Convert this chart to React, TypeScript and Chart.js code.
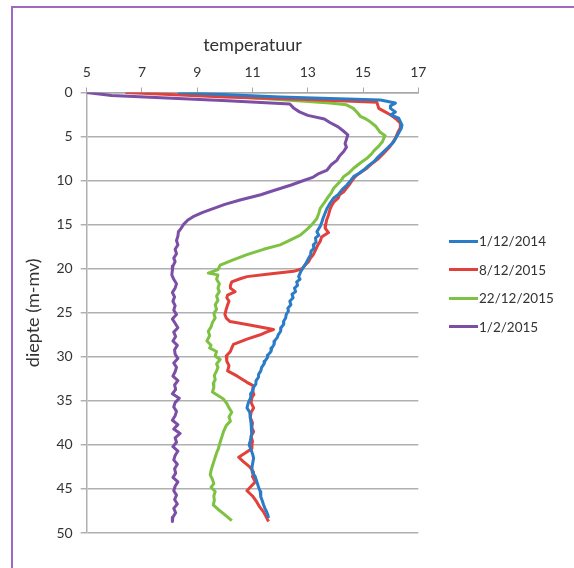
import React, { useEffect, useRef } from "react";
import { Chart, registerables } from "chart.js";

Chart.register(...registerables);

// ---- data: [depth (m-mv), temperature] ----
const seriesLabels = ["1/12/2014", "8/12/2015", "22/12/2015", "1/2/2015"];
const seriesColors = ["#2a7cc8", "#e2413b", "#7dc243", "#7c4fa7"];
const xTickValues = [5, 7, 9, 11, 13, 15, 17];
const yTickValues = [0, 5, 10, 15, 20, 25, 30, 35, 40, 45, 50];

const profile20141201: [number, number][] = [
  [0, 8.3], [0.5, 12.0], [0.85, 15.63], [1.2, 16.17], [1.5, 16.0], [1.8, 15.99], [2.2, 16.17],
  [2.55, 16.0], [2.9, 16.29], [3.3, 16.35], [3.7, 16.41], [4.1, 16.38], [4.6, 16.29], [5.1, 16.2],
  [5.6, 16.11], [6.1, 15.95], [6.7, 15.75], [7.3, 15.55], [7.85, 15.39], [8.3, 15.2], [8.8, 15.02],
  [9.2, 14.85], [9.55, 14.66], [10.0, 14.55], [10.5, 14.42], [11.0, 14.25], [11.6, 14.1], [12.0, 13.93],
  [12.6, 13.8], [13.2, 13.69], [13.9, 13.6], [14.3, 13.55], [14.7, 13.51], [15.2, 13.45], [15.8, 13.33],
  [16.2, 13.4], [16.5, 13.28], [17.0, 13.3], [17.3, 13.2], [17.7, 13.22], [18.0, 13.12], [18.4, 13.1],
  [18.8, 13.03], [19.3, 12.95], [19.8, 12.85], [20.3, 12.75], [20.9, 12.67], [21.2, 12.72], [21.5, 12.6],
  [21.9, 12.63], [22.2, 12.52], [22.6, 12.56], [22.9, 12.43], [23.3, 12.47], [23.7, 12.35], [24.1, 12.39],
  [24.5, 12.28], [24.8, 12.3], [25.2, 12.22], [25.6, 12.2], [26.0, 12.12], [26.3, 12.13], [26.7, 12.03],
  [27.1, 12.02], [27.5, 11.93], [27.8, 11.9], [28.2, 11.8], [28.6, 11.78], [29.0, 11.7], [29.4, 11.67],
  [29.8, 11.56], [30.1, 11.54], [30.5, 11.45], [30.8, 11.42], [31.2, 11.33], [31.6, 11.3], [32.0, 11.22],
  [32.3, 11.22], [32.7, 11.13], [33.1, 11.12], [33.5, 11.03], [33.8, 11.02], [34.2, 10.93], [34.6, 10.94],
  [35.2, 10.85], [35.8, 10.8], [36.3, 10.9], [36.9, 10.92], [37.6, 10.95], [38.2, 10.98], [38.8, 10.96],
  [39.5, 10.92], [40.0, 10.88], [40.4, 10.93], [41.0, 11.0], [41.5, 11.04], [42.2, 11.0], [42.6, 10.98],
  [43.1, 10.99], [43.6, 11.1], [44.2, 11.16], [44.8, 11.22], [45.3, 11.28], [45.9, 11.3], [46.4, 11.36],
  [46.8, 11.4], [47.2, 11.45], [47.5, 11.5], [47.9, 11.55], [48.3, 11.58],
];

const profile20151208: [number, number][] = [
  [0, 6.4], [0.5, 10.0], [0.8, 13.0], [1.1, 15.5], [1.8, 15.57], [2.2, 15.8], [2.55, 16.0], [3.0, 16.2],
  [3.5, 16.35], [4.0, 16.35], [4.6, 16.25], [5.2, 16.17], [5.8, 16.05], [6.3, 15.93], [6.9, 15.75],
  [7.47, 15.57], [8.0, 15.35], [8.6, 15.14], [9.0, 14.95], [9.36, 14.78], [9.8, 14.65], [10.3, 14.54],
  [10.8, 14.42], [11.26, 14.3], [11.6, 14.15], [12.0, 14.1], [12.4, 13.95], [12.8, 13.87], [13.3, 13.8],
  [13.9, 13.75], [14.5, 13.68], [15.0, 13.65], [15.4, 13.63], [15.9, 13.75], [16.4, 13.5], [16.9, 13.45],
  [17.4, 13.35], [17.9, 13.28], [18.4, 13.2], [18.8, 13.1], [19.2, 13.03], [19.6, 12.9], [20.0, 12.79],
  [20.3, 12.49], [20.6, 11.6], [20.9, 10.8], [21.2, 10.5], [21.5, 10.25], [21.9, 10.2], [22.2, 10.2],
  [22.6, 10.37], [23.0, 10.1], [23.3, 10.07], [23.7, 10.15], [24.1, 10.1], [24.6, 10.05], [25.2, 10.0],
  [25.6, 10.05], [26.0, 10.19], [26.4, 10.9], [26.9, 11.76], [27.2, 11.5], [27.5, 11.28], [28.0, 10.8],
  [28.6, 10.31], [29.0, 10.25], [29.4, 10.2], [29.9, 10.05], [30.5, 10.07], [31.0, 10.15], [31.6, 10.1],
  [32.2, 10.45], [32.9, 10.8], [33.3, 11.04], [33.8, 11.0], [34.3, 11.05], [34.6, 10.98], [35.2, 10.95],
  [35.8, 11.04], [36.3, 10.95], [36.9, 10.92], [37.5, 11.0], [38.0, 10.97], [38.5, 11.04], [39.0, 10.95],
  [39.6, 11.0], [40.0, 10.98], [40.4, 10.98], [40.9, 10.75], [41.4, 10.5], [41.9, 10.67], [42.5, 10.9],
  [43.1, 11.04], [43.6, 11.0], [44.2, 11.1], [44.7, 10.95], [45.2, 10.8], [45.8, 11.0], [46.5, 11.16],
  [47.0, 11.25], [47.6, 11.4], [48.2, 11.5], [48.7, 11.58],
];

const profile20151222: [number, number][] = [
  [0, 8.5], [0.5, 10.5], [0.9, 12.5], [1.2, 13.8], [1.4, 14.4], [1.8, 14.65], [2.3, 14.8], [2.7, 14.9],
  [3.0, 15.1], [3.3, 15.25], [3.8, 15.45], [4.45, 15.6], [4.9, 15.8], [5.2, 15.75], [5.6, 15.7],
  [6.15, 15.55], [6.6, 15.4], [7.0, 15.3], [7.47, 15.14], [8.0, 14.9], [8.6, 14.66], [9.1, 14.5],
  [9.55, 14.3], [10.0, 14.2], [10.5, 14.05], [10.9, 13.93], [11.4, 13.85], [11.8, 13.75], [12.5, 13.6],
  [13.15, 13.45], [13.7, 13.4], [14.3, 13.33], [15.0, 13.15], [15.6, 12.95], [16.2, 12.73], [16.7, 12.4],
  [17.3, 12.0], [17.8, 11.4], [18.4, 10.8], [19.0, 10.3], [19.6, 9.83], [20.1, 9.75], [20.5, 9.4],
  [20.7, 9.75], [21.2, 9.7], [21.7, 9.8], [22.2, 9.75], [22.6, 9.8], [23.1, 9.7], [23.6, 9.75],
  [24.1, 9.65], [24.6, 9.7], [25.1, 9.6], [25.6, 9.65], [26.1, 9.55], [26.6, 9.5], [27.1, 9.4],
  [27.6, 9.45], [28.2, 9.35], [28.7, 9.5], [29.0, 9.45], [29.4, 9.7], [29.9, 9.65], [30.3, 9.83],
  [30.8, 9.7], [31.2, 9.75], [31.6, 9.7], [32.1, 9.62], [32.6, 9.65], [33.0, 9.58], [33.5, 9.6],
  [34.0, 9.55], [34.4, 9.75], [34.8, 9.95], [35.3, 10.07], [35.8, 10.15], [36.3, 10.25], [36.8, 10.15],
  [37.3, 10.2], [37.8, 10.05], [38.5, 9.95], [39.0, 9.9], [39.5, 9.85], [40.0, 9.8], [40.4, 9.77],
  [40.9, 9.7], [41.4, 9.65], [41.9, 9.6], [42.4, 9.55], [42.9, 9.5], [43.4, 9.47], [43.9, 9.55],
  [44.4, 9.6], [44.8, 9.5], [45.3, 9.65], [45.8, 9.6], [46.3, 9.62], [46.8, 9.58], [47.3, 9.75],
  [47.8, 9.95], [48.2, 10.1], [48.6, 10.25],
];

const profile20150201: [number, number][] = [
  [0, 5.0], [0.35, 5.9], [0.6, 7.7], [0.95, 10.1], [1.3, 12.35], [1.8, 12.5], [2.2, 12.7], [2.6, 13.0],
  [3.0, 13.6], [3.4, 13.8], [3.9, 14.1], [4.4, 14.3], [4.8, 14.45], [5.3, 14.4], [5.8, 14.35], [6.2, 14.4],
  [6.7, 14.3], [7.2, 14.15], [7.7, 14.05], [8.2, 13.85], [8.8, 13.7], [9.2, 13.4], [9.6, 13.2],
  [10.1, 12.75], [10.5, 12.4], [10.9, 12.0], [11.3, 11.6], [11.6, 11.3], [12.2, 10.55], [12.7, 10.0],
  [13.15, 9.6], [13.6, 9.2], [14.1, 8.85], [14.5, 8.65], [15.0, 8.5], [15.5, 8.4], [15.8, 8.32],
  [16.3, 8.3], [16.8, 8.25], [17.3, 8.3], [17.8, 8.2], [18.3, 8.25], [18.8, 8.15], [19.2, 8.2],
  [19.7, 8.12], [20.2, 8.1], [20.7, 8.08], [21.2, 8.15], [21.7, 8.25], [22.2, 8.2], [22.7, 8.1],
  [23.2, 8.18], [23.7, 8.12], [24.2, 8.2], [24.7, 8.15], [25.2, 8.25], [25.7, 8.1], [26.2, 8.2],
  [26.7, 8.3], [27.2, 8.15], [27.7, 8.22], [28.2, 8.12], [28.7, 8.28], [29.2, 8.18], [29.7, 8.2],
  [30.2, 8.3], [30.7, 8.15], [31.2, 8.25], [31.7, 8.2], [32.2, 8.12], [32.7, 8.3], [33.2, 8.18],
  [33.7, 8.22], [34.2, 8.1], [34.7, 8.35], [35.2, 8.2], [35.7, 8.15], [36.2, 8.25], [36.7, 8.2],
  [37.2, 8.1], [37.7, 8.3], [38.2, 8.15], [38.7, 8.38], [39.2, 8.2], [39.7, 8.25], [40.2, 8.12],
  [40.7, 8.3], [41.2, 8.2], [41.7, 8.15], [42.2, 8.28], [42.7, 8.18], [43.2, 8.22], [43.7, 8.12],
  [44.2, 8.3], [44.7, 8.2], [45.2, 8.15], [45.7, 8.25], [46.2, 8.18], [46.7, 8.28], [47.2, 8.15],
  [47.7, 8.22], [48.2, 8.12], [48.7, 8.1],
];

const profiles = [profile20141201, profile20151208, profile20151222, profile20150201];

const FONT = "Lato, 'Open Sans', sans-serif";
const TEXT = "#333333";

export default function App() {
  const canvasRef = useRef<HTMLCanvasElement | null>(null);

  useEffect(() => {
    const canvas = canvasRef.current;
    if (!canvas) return;
    const chart = new Chart(canvas, {
      type: "scatter",
      data: {
        datasets: profiles.map((p, i) => ({
          label: seriesLabels[i],
          data: p.map(([d, t]) => ({ x: t, y: d })),
          showLine: true,
          borderColor: seriesColors[i],
          backgroundColor: seriesColors[i],
          borderWidth: 3,
          pointRadius: 0,
          tension: 0,
          borderJoinStyle: "round" as const,
        })),
      },
      options: {
        responsive: false,
        animation: false,
        layout: { padding: { left: 20, top: 30, right: 155.7, bottom: 35 } },
        plugins: { legend: { display: false }, tooltip: { enabled: false } },
        scales: {
          x: {
            type: "linear",
            position: "top",
            min: 5,
            max: 17,
            afterBuildTicks: (s: any) => {
              s.ticks = xTickValues.map((v) => ({ value: v }));
            },
            afterFit: (s: any) => {
              s.height = 62.5;
            },
            ticks: { font: { family: FONT, size: 14 }, color: TEXT, padding: 7 },
            grid: { drawOnChartArea: false, drawTicks: true, tickLength: 5, color: "#a8a8a8", lineWidth: 1 },
            border: { color: "#a8a8a8", width: 1.5 },
            title: {
              display: true,
              text: "temperatuur",
              font: { family: FONT, size: 18 },
              color: TEXT,
              padding: { top: 4, bottom: 0 },
            },
          },
          y: {
            type: "linear",
            reverse: true,
            min: 0,
            max: 50,
            afterBuildTicks: (s: any) => {
              s.ticks = yTickValues.map((v) => ({ value: v }));
            },
            afterFit: (s: any) => {
              s.width = 66.7;
            },
            ticks: { font: { family: FONT, size: 14 }, color: TEXT, padding: 8 },
            grid: { drawOnChartArea: true, drawTicks: true, tickLength: 6, color: "#b0b0b0", lineWidth: 1.5 },
            border: { color: "#b0b0b0", width: 1.5 },
            title: {
              display: true,
              text: "diepte (m-mv)",
              font: { family: FONT, size: 18 },
              color: TEXT,
              padding: { top: 2, bottom: 0 },
            },
          },
        },
      },
    });
    return () => chart.destroy();
  }, []);

  return (
    <div style={{ position: "fixed", left: 0, top: 0, width: 574, height: 568, background: "#fff", overflow: "hidden" }}>
      <div
        style={{
          position: "absolute",
          left: 11,
          top: 6,
          width: 600,
          height: 600,
          borderLeft: "2px solid #9d69c3",
          borderTop: "2px solid #9d69c3",
        }}
      />
      <canvas ref={canvasRef} width={574} height={568} style={{ position: "absolute", left: 0, top: 0, display: "block" }} />
      <div style={{ position: "absolute", left: 449, top: 227, fontFamily: FONT, fontSize: 13.5, color: TEXT }}>
        {seriesLabels.map((lab, i) => (
          <div key={lab} style={{ display: "flex", alignItems: "center", height: 28.5 }}>
            <span style={{ display: "inline-block", width: 29, height: 3, background: seriesColors[i], marginRight: 1 }} />
            <span>{lab}</span>
          </div>
        ))}
      </div>
    </div>
  );
}
